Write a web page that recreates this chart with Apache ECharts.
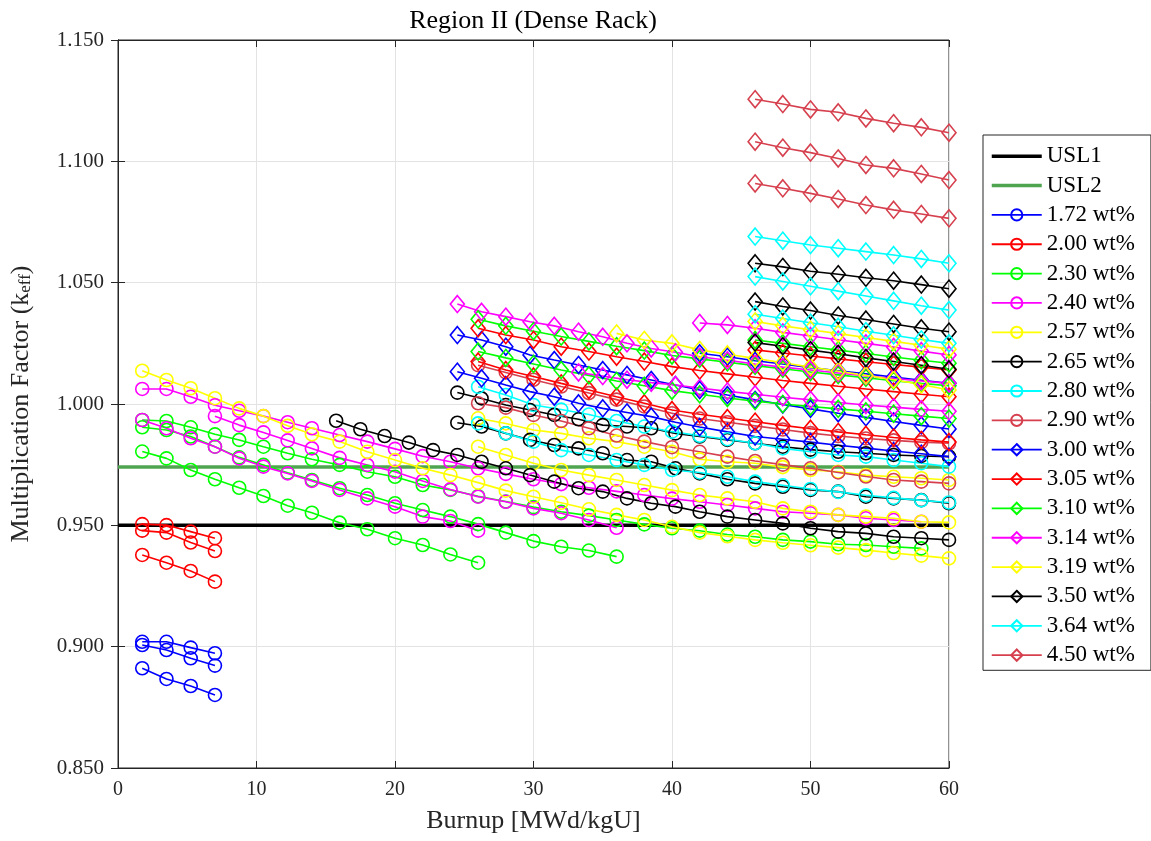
<!DOCTYPE html>
<html>
<head>
<meta charset="utf-8">
<script src="https://cdn.jsdelivr.net/npm/echarts@6/dist/echarts.min.js"></script>
<style>
  html, body { margin: 0; padding: 0; background: #ffffff; }
  #chart { width: 1151px; height: 841px; }
</style>
</head>
<body>
<div id="chart"></div>
<script>
// Burnup grids (MWd/kgU) on which the keff curves are sampled
const BU_A = [1.75, 3.5, 5.25, 7, 8.75, 10.5, 12.25, 14, 16, 18, 20, 22, 24, 26, 28, 30, 32,
  34, 36, 38, 40, 42, 44, 46, 48, 50, 52, 54, 56, 58, 60];
const BU_B = [15.75, 17.5, 19.25, 21, 22.75, 24.5, 26.25, 28, 29.75, 31.5, 33.25, 35, 36.75,
  38.5, 40.25, 42, 44, 46, 48, 50, 52, 54, 56, 58, 60];

// Upper subcritical limits
const USL1 = 0.950;
const USL2 = 0.974;

// Each curve: [grid, first burnup, keff values]
const k172 = [
  ['A', 1.75, [0.9020, 0.9020, 0.8996, 0.8973]],
  ['A', 1.75, [0.9007, 0.8986, 0.8952, 0.8922]],
  ['A', 1.75, [0.8911, 0.8867, 0.8838, 0.8801]]
];
const k200 = [
  ['A', 1.75, [0.9505, 0.9501, 0.9474, 0.9447]],
  ['A', 1.75, [0.9478, 0.9470, 0.9429, 0.9394]],
  ['A', 1.75, [0.9378, 0.9346, 0.9312, 0.9268]]
];
const k230 = [
  ['A', 1.75, [0.9934, 0.9930, 0.9904, 0.9875, 0.9852, 0.9824, 0.9797, 0.9772, 0.9749, 0.9721,
    0.9700, 0.9666, 0.9646, 0.9620, 0.9598, 0.9575, 0.9556, 0.9540, 0.9522, 0.9504, 0.9488,
    0.9478, 0.9462, 0.9453, 0.9440, 0.9433, 0.9422, 0.9419, 0.9412, 0.9405]],
  ['A', 1.75, [0.9904, 0.9893, 0.9866, 0.9824, 0.9780, 0.9749, 0.9717, 0.9687, 0.9653, 0.9625,
    0.9591, 0.9563, 0.9536, 0.9505, 0.9470, 0.9435, 0.9412, 0.9396, 0.9371]],
  ['A', 1.75, [0.9804, 0.9776, 0.9728, 0.9690, 0.9655, 0.9621, 0.9581, 0.9552, 0.9511, 0.9484,
    0.9447, 0.9419, 0.9380, 0.9346]]
];
const k240 = [
  ['A', 1.75, [1.0062, 1.0062, 1.0030, 0.9995, 0.9972, 0.9950, 0.9925, 0.9900, 0.9872, 0.9845,
    0.9815, 0.9785, 0.9762, 0.9735, 0.9712, 0.9690, 0.9670, 0.9655, 0.9640, 0.9625, 0.9610,
    0.9597, 0.9584, 0.9570, 0.9556, 0.9550, 0.9543, 0.9529, 0.9522, 0.9515]],
  ['A', 7, [0.9950, 0.9913, 0.9883, 0.9850, 0.9817, 0.9778, 0.9749, 0.9721, 0.9683, 0.9648,
    0.9618, 0.9597, 0.9570, 0.9550, 0.9522, 0.9490]],
  ['A', 1.75, [0.9934, 0.9900, 0.9859, 0.9824, 0.9776, 0.9742, 0.9714, 0.9683, 0.9646, 0.9611,
    0.9577, 0.9536, 0.9518, 0.9478]]
];
const k257 = [
  ['A', 1.75, [1.0137, 1.0099, 1.0065, 1.0024, 0.9982, 0.9950, 0.9910, 0.9875, 0.9845, 0.9803,
    0.9769, 0.9735, 0.9707, 0.9676, 0.9643, 0.9618, 0.9593, 0.9566, 0.9543, 0.9522, 0.9494,
    0.9470, 0.9455, 0.9440, 0.9428, 0.9418, 0.9408, 0.9398, 0.9386, 0.9375, 0.9364]],
  ['A', 26, [0.9941, 0.9920, 0.9893, 0.9879, 0.9859, 0.9845, 0.9824, 0.9803, 0.9772, 0.9762,
    0.9756, 0.9740, 0.9728, 0.9721, 0.9707, 0.9700, 0.9694, 0.9687]],
  ['A', 26, [0.9824, 0.9790, 0.9756, 0.9728, 0.9707, 0.9687, 0.9666, 0.9645, 0.9625, 0.9611,
    0.9597, 0.9570, 0.9556, 0.9543, 0.9536, 0.9529, 0.9515, 0.9512]]
];
const k265 = [
  ['B', 15.75, [0.9931, 0.9896, 0.9868, 0.9841, 0.9810, 0.9790, 0.9762, 0.9735, 0.9707, 0.9680,
    0.9653, 0.9639, 0.9611, 0.9591, 0.9577, 0.9556, 0.9536, 0.9522, 0.9508, 0.9488, 0.9474,
    0.9467, 0.9453, 0.9447, 0.9440]],
  ['B', 24.5, [1.0047, 1.0023, 0.9996, 0.9975, 0.9955, 0.9937, 0.9913, 0.9907, 0.9900, 0.9879,
    0.9866, 0.9852, 0.9838, 0.9824, 0.9812, 0.9803, 0.9797, 0.9790, 0.9786, 0.9783]],
  ['B', 24.5, [0.9923, 0.9907, 0.9879, 0.9852, 0.9831, 0.9817, 0.9797, 0.9769, 0.9762, 0.9735,
    0.9714, 0.9690, 0.9673, 0.9659, 0.9646, 0.9639, 0.9618, 0.9611, 0.9604, 0.9591]]
];
const k280 = [
  ['A', 26, [1.0071, 1.0037, 0.9996, 0.9977, 0.9957, 0.9930, 0.9907, 0.9886, 0.9869, 0.9855,
    0.9838, 0.9817, 0.9803, 0.9790, 0.9783, 0.9769, 0.9756, 0.9742]],
  ['A', 26, [0.9920, 0.9879, 0.9845, 0.9810, 0.9790, 0.9769, 0.9749, 0.9728, 0.9718, 0.9700,
    0.9680, 0.9665, 0.9650, 0.9638, 0.9624, 0.9613, 0.9603, 0.9594]]
];
const k290 = [
  ['A', 26, [1.0160, 1.0130, 1.0100, 1.0072, 1.0045, 1.0018, 0.9990, 0.9962, 0.9940, 0.9925,
    0.9910, 0.9895, 0.9880, 0.9868, 0.9858, 0.9850, 0.9843, 0.9838]],
  ['A', 26, [1.0003, 0.9985, 0.9955, 0.9930, 0.9900, 0.9870, 0.9845, 0.9822, 0.9803, 0.9783,
    0.9765, 0.9750, 0.9735, 0.9718, 0.9701, 0.9687, 0.9680, 0.9673]]
];
const k300 = [
  ['B', 24.5, [1.0284, 1.0264, 1.0236, 1.0202, 1.0181, 1.0161, 1.0140, 1.0120, 1.0099, 1.0078,
    1.0058, 1.0037, 1.0017, 0.9998, 0.9980, 0.9962, 0.9945, 0.9928, 0.9912, 0.9897]],
  ['B', 24.5, [1.0133, 1.0106, 1.0078, 1.0051, 1.0030, 1.0003, 0.9982, 0.9965, 0.9948, 0.9925,
    0.9905, 0.9885, 0.9866, 0.9855, 0.9843, 0.9830, 0.9818, 0.9806, 0.9795, 0.9783]],
  ['A', 42, [1.0209, 1.0195, 1.0178, 1.0165, 1.0150, 1.0137, 1.0124, 1.0111, 1.0098, 1.0085]]
];
const k305 = [
  ['A', 26, [1.0312, 1.0284, 1.0264, 1.0236, 1.0216, 1.0195, 1.0175, 1.0154, 1.0138, 1.0124,
    1.0110, 1.0097, 1.0085, 1.0073, 1.0062, 1.0051, 1.0040, 1.0030]],
  ['A', 26, [1.0175, 1.0140, 1.0113, 1.0085, 1.0058, 1.0030, 1.0003, 0.9975, 0.9958, 0.9942,
    0.9927, 0.9912, 0.9898, 0.9885, 0.9873, 0.9862, 0.9852, 0.9843]],
  ['A', 46, [1.0223, 1.0210, 1.0198, 1.0186, 1.0174, 1.0163, 1.0152, 1.0140]]
];
const k310 = [
  ['A', 26, [1.0349, 1.0322, 1.0300, 1.0278, 1.0258, 1.0238, 1.0220, 1.0200, 1.0186, 1.0172,
    1.0158, 1.0145, 1.0132, 1.0120, 1.0108, 1.0096, 1.0085, 1.0075]],
  ['A', 26, [1.0216, 1.0190, 1.0165, 1.0140, 1.0118, 1.0095, 1.0075, 1.0055, 1.0040, 1.0025,
    1.0012, 1.0000, 0.9990, 0.9980, 0.9970, 0.9960, 0.9950, 0.9940]],
  ['A', 46, [1.0264, 1.0250, 1.0236, 1.0222, 1.0208, 1.0194, 1.0180, 1.0168]]
];
const k314 = [
  ['B', 24.5, [1.0412, 1.0380, 1.0360, 1.0339, 1.0322, 1.0298, 1.0277, 1.0250, 1.0229, 1.0213,
    1.0195, 1.0180, 1.0165, 1.0152, 1.0140, 1.0128, 1.0116, 1.0105, 1.0095, 1.0085]],
  ['B', 33.25, [1.0130, 1.0115, 1.0100, 1.0088, 1.0078, 1.0066, 1.0052, 1.0040, 1.0028, 1.0017,
    1.0006, 0.9996, 0.9987, 0.9978, 0.9970]],
  ['A', 42, [1.0334, 1.0326, 1.0312, 1.0295, 1.0280, 1.0265, 1.0250, 1.0235, 1.0218, 1.0202]]
];
const k319 = [
  ['A', 36, [1.0291, 1.0264, 1.0250, 1.0223, 1.0205, 1.0188, 1.0170, 1.0152, 1.0135, 1.0118,
    1.0100, 1.0080, 1.0058]],
  ['A', 46, [1.0340, 1.0322, 1.0306, 1.0290, 1.0274, 1.0258, 1.0242, 1.0226]]
];
const k350 = [
  ['A', 46, [1.0580, 1.0565, 1.0547, 1.0535, 1.0520, 1.0508, 1.0492, 1.0475]],
  ['A', 46, [1.0422, 1.0402, 1.0385, 1.0365, 1.0348, 1.0330, 1.0312, 1.0298]],
  ['A', 46, [1.0253, 1.0238, 1.0222, 1.0207, 1.0190, 1.0175, 1.0160, 1.0143]]
];
const k364 = [
  ['A', 46, [1.0690, 1.0673, 1.0655, 1.0642, 1.0628, 1.0614, 1.0598, 1.0580]],
  ['A', 46, [1.0525, 1.0505, 1.0485, 1.0465, 1.0445, 1.0425, 1.0405, 1.0387]],
  ['A', 46, [1.0370, 1.0352, 1.0335, 1.0318, 1.0300, 1.0283, 1.0266, 1.0250]]
];
const k450 = [
  ['A', 46, [1.1256, 1.1236, 1.1214, 1.1202, 1.1177, 1.1157, 1.1140, 1.1118]],
  ['A', 46, [1.1081, 1.1056, 1.1036, 1.1012, 1.0985, 1.0971, 1.0948, 1.0923]],
  ['A', 46, [1.0909, 1.0889, 1.0868, 1.0845, 1.0820, 1.0800, 1.0783, 1.0765]]
];

// Legend entries: name, curves, line colour, marker
const groups = [
  ['1.72 wt%', k172, '#0000FF', 'circle'],
  ['2.00 wt%', k200, '#FF0000', 'circle'],
  ['2.30 wt%', k230, '#00FF00', 'circle'],
  ['2.40 wt%', k240, '#FF00FF', 'circle'],
  ['2.57 wt%', k257, '#FFFF00', 'circle'],
  ['2.65 wt%', k265, '#000000', 'circle'],
  ['2.80 wt%', k280, '#00FFFF', 'circle'],
  ['2.90 wt%', k290, '#D6404E', 'circle'],
  ['3.00 wt%', k300, '#0000FF', 'diamond'],
  ['3.05 wt%', k305, '#FF0000', 'diamond'],
  ['3.10 wt%', k310, '#00FF00', 'diamond'],
  ['3.14 wt%', k314, '#FF00FF', 'diamond'],
  ['3.19 wt%', k319, '#FFFF00', 'diamond'],
  ['3.50 wt%', k350, '#000000', 'diamond'],
  ['3.64 wt%', k364, '#00FFFF', 'diamond'],
  ['4.50 wt%', k450, '#D6404E', 'diamond']
];

function curvePoints(curve) {
  const grid = curve[0] === 'A' ? BU_A : BU_B;
  const i0 = grid.indexOf(curve[1]);
  return curve[2].map((k, i) => [grid[i0 + i], k]);
}

const FONT = '"Liberation Serif", "Times New Roman", serif';
const INK = '#262626';
const HOLLOW = 'rgba(255,255,255,0)';

// Limit lines: plain thick lines, no marker (the legend marker is left transparent)
const series = [
  {
    name: 'USL1', type: 'line', data: [[0, USL1], [60, USL1]],
    symbol: 'none', lineStyle: { color: '#000000', width: 3.5 },
    itemStyle: { color: HOLLOW, borderColor: HOLLOW }, silent: true
  },
  {
    name: 'USL2', type: 'line', data: [[0, USL2], [60, USL2]],
    symbol: 'none', lineStyle: { color: '#4FA44F', width: 3.5 },
    itemStyle: { color: HOLLOW, borderColor: HOLLOW }, silent: true
  }
];

groups.forEach(([name, curves, color, marker]) => {
  curves.forEach(c => {
    series.push({
      name: name,
      type: 'line',
      data: curvePoints(c),
      symbol: marker,
      symbolSize: marker === 'circle' ? 13 : [14, 17],
      lineStyle: { color: color, width: 1.6 },
      itemStyle: { color: HOLLOW, borderColor: color, borderWidth: 1.6 },
      emphasis: { disabled: true },
      silent: true
    });
  });
});

const chart = echarts.init(document.getElementById('chart'), null, { renderer: 'canvas' });

chart.setOption({
  animation: false,
  backgroundColor: '#ffffff',
  textStyle: { fontFamily: FONT },
  title: {
    text: 'Region II (Dense Rack)',
    left: 528,
    top: 3,
    textAlign: 'center',
    textStyle: { fontFamily: FONT, fontSize: 26, fontWeight: 'normal', color: '#000000' }
  },
  legend: {
    orient: 'vertical',
    left: 983,
    top: 135,
    padding: [9, 16, 3, 7],
    itemWidth: 50,
    itemHeight: 14,
    itemGap: 5,
    borderColor: INK,
    borderWidth: 1,
    backgroundColor: '#ffffff',
    textStyle: { fontFamily: FONT, fontSize: 23, color: '#000000', lineHeight: 24.35 },
    data: [
      { name: 'USL1', lineStyle: { width: 3.5 } },
      { name: 'USL2', lineStyle: { width: 3.5 } }
    ].concat(groups.map(g => ({ name: g[0], lineStyle: { width: 1.8 } })))
  },
  grid: {
    left: 118, right: 202, top: 40, bottom: 73,
    show: true, borderColor: INK, borderWidth: 1, backgroundColor: '#ffffff'
  },
  xAxis: [
    {
      type: 'value', min: 0, max: 60, interval: 10,
      name: 'Burnup [MWd/kgU]', nameLocation: 'middle', nameGap: 40,
      nameTextStyle: { fontFamily: FONT, fontSize: 26, color: INK },
      axisLine: { show: true, lineStyle: { color: INK, width: 1 } },
      axisTick: { show: true, inside: true, length: 7, lineStyle: { color: INK } },
      axisLabel: { fontFamily: FONT, fontSize: 20, color: INK, margin: 12 },
      splitLine: { show: true, lineStyle: { color: '#E3E3E3', width: 1 } }
    },
    {
      type: 'value', min: 0, max: 60, interval: 10, position: 'top',
      axisLine: { show: true, lineStyle: { color: INK, width: 1 } },
      axisTick: { show: true, inside: true, length: 7, lineStyle: { color: INK } },
      axisLabel: { show: false },
      splitLine: { show: false }
    }
  ],
  yAxis: [
    {
      type: 'value', min: 0.85, max: 1.15, interval: 0.05,
      name: 'Multiplication Factor (k{sub|eff})', nameLocation: 'middle', nameGap: 84,
      nameRotate: 90,
      nameTextStyle: {
        fontFamily: FONT, fontSize: 26, color: INK,
        rich: { sub: { fontFamily: FONT, fontSize: 17, color: INK, verticalAlign: 'bottom', padding: [8, 0, 0, 0] } }
      },
      axisLine: { show: true, lineStyle: { color: INK, width: 1 } },
      axisTick: { show: true, inside: true, length: 7, lineStyle: { color: INK } },
      axisLabel: { fontFamily: FONT, fontSize: 21, color: INK, margin: 14, formatter: v => v.toFixed(3) },
      splitLine: { show: true, lineStyle: { color: '#E3E3E3', width: 1 } }
    },
    {
      type: 'value', min: 0.85, max: 1.15, interval: 0.05, position: 'right',
      axisLine: { show: true, lineStyle: { color: INK, width: 1 } },
      axisTick: { show: true, inside: true, length: 7, lineStyle: { color: INK } },
      axisLabel: { show: false },
      splitLine: { show: false }
    }
  ],
  series: series
});
</script>
</body>
</html>
